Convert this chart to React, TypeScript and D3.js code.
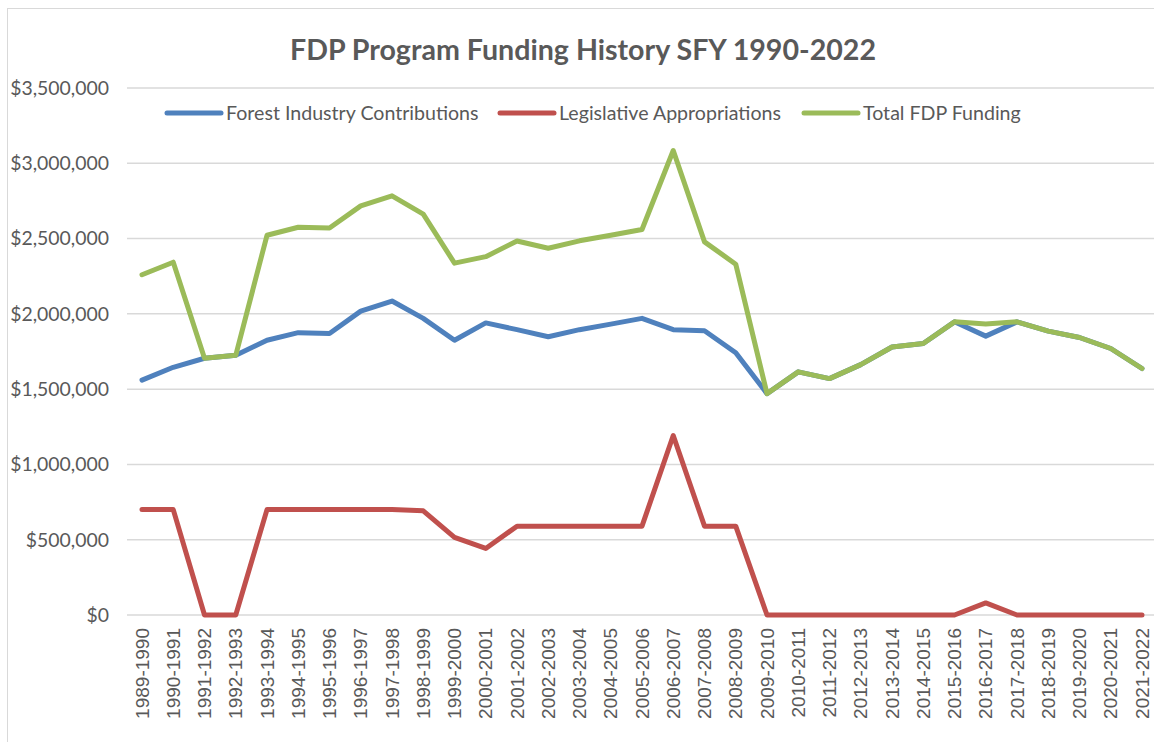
import React from "react";
import * as d3 from "d3";

const years = [
  "1989-1990", "1990-1991", "1991-1992", "1992-1993", "1993-1994", "1994-1995",
  "1995-1996", "1996-1997", "1997-1998", "1998-1999", "1999-2000", "2000-2001",
  "2001-2002", "2002-2003", "2003-2004", "2004-2005", "2005-2006", "2006-2007",
  "2007-2008", "2008-2009", "2009-2010", "2010-2011", "2011-2012", "2012-2013",
  "2013-2014", "2014-2015", "2015-2016", "2016-2017", "2017-2018", "2018-2019",
  "2019-2020", "2020-2021", "2021-2022",
];

// Forest Industry Contributions
const industry = [
  1560000, 1645000, 1705000, 1725000, 1825000, 1875000, 1870000, 2018000,
  2085000, 1970000, 1825000, 1940000, 1895000, 1848000, 1895000, 1932000,
  1970000, 1895000, 1888000, 1742000, 1470000, 1615000, 1570000, 1663000,
  1780000, 1803000, 1947000, 1852000, 1947000, 1885000, 1843000, 1770000,
  1637000,
];

// Legislative Appropriations
const legislative = [
  700000, 700000, 0, 0, 700000, 700000, 700000, 700000, 700000, 692000,
  515000, 442000, 590000, 590000, 590000, 590000, 590000, 1192000, 590000,
  590000, 0, 0, 0, 0, 0, 0, 0, 80000, 0, 0, 0, 0, 0,
];

// Total FDP Funding
const total = [
  2260000, 2343000, 1705000, 1725000, 2522000, 2575000, 2570000, 2717000,
  2784000, 2662000, 2337000, 2380000, 2484000, 2436000, 2485000, 2522000,
  2560000, 3085000, 2478000, 2330000, 1470000, 1615000, 1570000, 1663000,
  1780000, 1803000, 1947000, 1932000, 1947000, 1885000, 1843000, 1770000,
  1637000,
];

const yTicks = [0, 500000, 1000000, 1500000, 2000000, 2500000, 3000000, 3500000];

const series = [
  { name: "Forest Industry Contributions", values: industry, color: "#4F81BD" },
  { name: "Legislative Appropriations", values: legislative, color: "#C0504D" },
  { name: "Total FDP Funding", values: total, color: "#9BBB59" },
];

const W = 1154;
const H = 742;
const textColor = "#595959";
const calibriLike = "Lato, 'Open Sans', sans-serif";

export default function App() {
  const x = d3.scalePoint<string>().domain(years).range([142, 1142]);
  const y = d3.scaleLinear().domain([0, 3500000]).range([615, 88]);
  const fmt = (v: number) => "$" + d3.format(",")(v);

  const line = d3
    .line<number>()
    .x((_, i) => x(years[i]) as number)
    .y((d) => y(d));

  const legendX = [167, 500, 804];

  return (
    <svg
      width={W}
      height={H}
      style={{ position: "absolute", left: 0, top: 0, background: "#fff" }}
    >
      <rect x={7.5} y={8.5} width={1160} height={745} fill="#fff" stroke="#d9d9d9" />

      <text
        x={583}
        y={60}
        textAnchor="middle"
        fontFamily={calibriLike}
        fontWeight="bold"
        fontSize={28.6}
        fill={textColor}
      >
        FDP Program Funding History SFY 1990-2022
      </text>

      {/* grid + y labels */}
      {yTicks.map((t) => (
        <g key={t}>
          <line x1={127} x2={1156} y1={y(t)} y2={y(t)} stroke="#d9d9d9" strokeWidth={1.5} />
          <text
            x={109}
            y={y(t)}
            dy="0.35em"
            textAnchor="end"
            fontFamily={calibriLike}
            fontSize={19.4}
            fill={textColor}
          >
            {fmt(t)}
          </text>
        </g>
      ))}

      {/* x labels */}
      {years.map((yr) => (
        <text
          key={yr}
          transform={`translate(${x(yr)},628) rotate(-90)`}
          dy="0.35em"
          textAnchor="end"
          fontFamily="'Liberation Sans', Arial, sans-serif"
          fontSize={19}
          fill={textColor}
        >
          {yr}
        </text>
      ))}

      {/* lines */}
      {series.map((s) => (
        <path
          key={s.name}
          d={line(s.values) as string}
          fill="none"
          stroke={s.color}
          strokeWidth={5}
          strokeLinejoin="round"
          strokeLinecap="round"
        />
      ))}

      {/* legend */}
      {series.map((s, i) => (
        <g key={s.name} transform={`translate(${legendX[i]},113)`}>
          <line x1={0} x2={54} y1={0} y2={0} stroke={s.color} strokeWidth={5} strokeLinecap="round" />
          <text x={59} y={0} dy="0.35em" fontFamily={calibriLike} fontSize={19.6} fill={textColor}>
            {s.name}
          </text>
        </g>
      ))}
    </svg>
  );
}
